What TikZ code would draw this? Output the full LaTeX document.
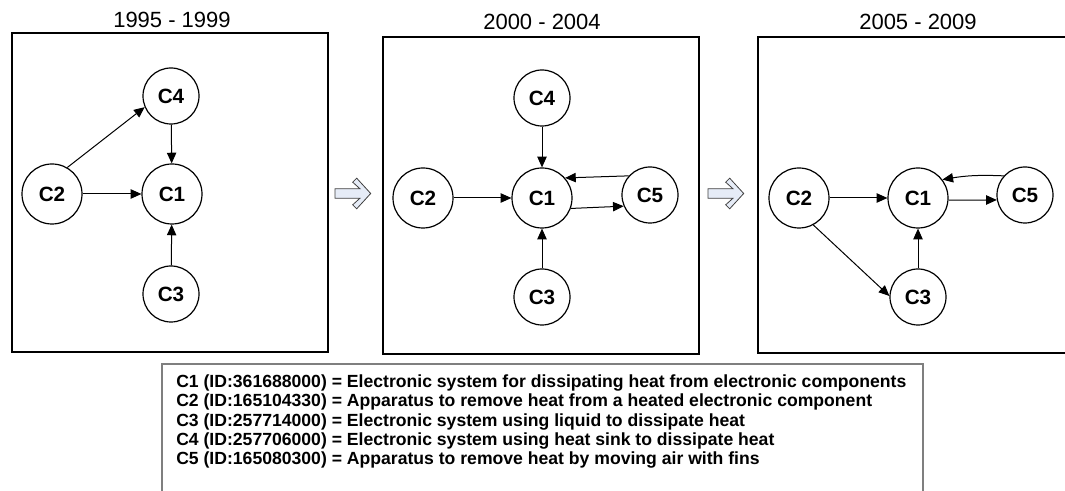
\documentclass[tikz,border=0pt]{standalone}
\usepackage{fontspec}
\setmainfont{Liberation Sans}
\usetikzlibrary{arrows.meta}
\definecolor{hollowfill}{HTML}{E6ECF7}
\definecolor{legendgray}{HTML}{7F7F7F}
\begin{document}
\begin{tikzpicture}[x=0.75pt,y=-0.75pt,
  bignode/.style={circle,draw,line width=0.9pt,minimum size=45pt,inner sep=0pt,font=\fontsize{15.5}{17}\selectfont\bfseries},
  smallnode/.style={circle,draw,line width=0.9pt,minimum size=42pt,inner sep=0pt,font=\fontsize{15.5}{17}\selectfont\bfseries},
  link/.style={line width=0.75pt,-{Triangle[length=8pt,width=7pt]}},
  panel/.style={line width=1.9pt},
  title/.style={font=\fontsize{16.5}{18}\selectfont,inner sep=0pt},
  legendline/.style={anchor=west,inner sep=0pt,font=\fontsize{13.2}{15}\selectfont\bfseries},
  hollow/.style={draw=black!75,line width=0.6pt,fill=hollowfill,line join=miter}]
\useasboundingbox (0,0) rectangle (1065,491);

% titles
\node[title] (t1) at (172,19.5) {1995 - 1999};
\node[title] (t2) at (542,21.5) {2000 - 2004};
\node[title] (t3) at (918,21.5) {2005 - 2009};

% panels
\draw[panel] (12,33) rectangle (328,352);
\draw[panel] (383,37) rectangle (699,354);
\draw[panel] (1075,37) -- (758,37) -- (758,353) -- (1075,353);

% panel 1
\node[smallnode] (a4) at (171,96) {C4};
\node[bignode] (a2) at (52,194) {C2};
\node[bignode] (a1) at (172,194) {C1};
\node[smallnode] (a3) at (171,294) {C3};
\draw[link] (a2.60) -- (a4.203);
\draw[link] (a2) -- (a1);
\draw[link] (a4) -- (a1);
\draw[link] (a3) -- (a1);

% panel 2
\node[smallnode] (b4) at (542,98) {C4};
\node[bignode] (b2) at (423,198) {C2};
\node[bignode] (b1) at (542,198) {C1};
\node[smallnode] (b5) at (650,195) {C5};
\node[smallnode] (b3) at (542,297) {C3};
\draw[link] (b4) -- (b1);
\draw[link] (b2) -- (b1);
\draw[link] (b3) -- (b1);
\draw[link] (b5.138) -- (b1.41);
\draw[link] (b1.-20) -- (b5.-157);

% panel 3
\node[bignode] (c2) at (799,198) {C2};
\node[bignode] (c1) at (918,198) {C1};
\node[smallnode] (c5) at (1025,195) {C5};
\node[smallnode] (c3) at (918,297) {C3};
\draw[link] (c2) -- (c1);
\draw[link] (c3) -- (c1);
\draw[link] (c1.-4) -- (c5.190);
\draw[link] (c5.138) to[bend right=6] (c1.37);
\draw[link] (c2.-62) -- (c3.178);

% hollow arrows between panels
\foreach \x in {335,708}{
  \begin{scope}[shift={(\x,193.5)}]
    \draw[hollow] (0,-4.7) -- (25,-4.7) -- (17.7,-11.3) -- (21.7,-15.3) -- (35.7,0)
      -- (21.7,15.3) -- (17.7,11.3) -- (25,4.7) -- (0,4.7) -- cycle;
  \end{scope}
}

% legend
\draw[draw=legendgray,line width=1.5pt] (162,500) -- (162,364) -- (923,364) -- (923,500);
\node[legendline] (l1) at (176,383) {C1 (ID:361688000) = Electronic system for dissipating heat from electronic components};
\node[legendline] (l2) at (176,402.3) {C2 (ID:165104330) = Apparatus to remove heat from a heated electronic component};
\node[legendline] (l3) at (176,421.6) {C3 (ID:257714000) = Electronic system using liquid to dissipate heat};
\node[legendline] (l4) at (176,440.9) {C4 (ID:257706000) = Electronic system using heat sink to dissipate heat};
\node[legendline] (l5) at (176,460.2) {C5 (ID:165080300) = Apparatus to remove heat by moving air with fins};
\end{tikzpicture}
\end{document}
